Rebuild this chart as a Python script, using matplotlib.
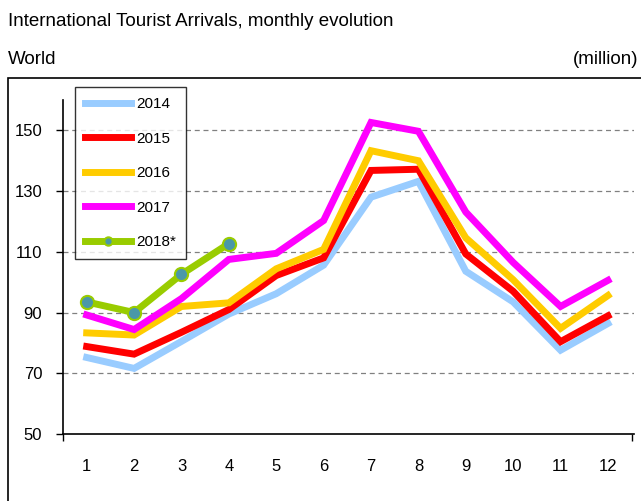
import matplotlib.pyplot as plt
from matplotlib.patches import Rectangle

plt.rcParams['font.family'] = ['Liberation Sans', 'DejaVu Sans']

months = list(range(1, 13))
y2014 = [75.2, 71.6, 80.5, 89.5, 96.2, 105.6, 128.0, 133.2, 103.6, 93.5, 77.6, 86.4]
y2015 = [78.8, 76.3, 83.5, 91.0, 102.2, 108.0, 136.8, 137.2, 109.3, 97.0, 80.4, 88.9]
y2016 = [83.3, 82.6, 92.0, 93.2, 104.4, 110.8, 143.3, 140.0, 114.6, 100.8, 84.8, 95.6]
y2017 = [89.2, 84.4, 94.6, 107.5, 109.5, 120.3, 152.6, 149.7, 123.1, 106.5, 92.0, 100.6]
y2018 = [93.5, 90.0, 102.6, 112.7]

fig = plt.figure(figsize=(6.41, 5.01), dpi=100)
ax = fig.add_axes([63 / 641, 67 / 501, 571 / 641, 334 / 501])

lw = 5
ax.plot(months, y2014, color='#99CCFF', lw=lw, label='2014', solid_joinstyle='miter')
ax.plot(months, y2015, color='#FF0000', lw=lw, label='2015', solid_joinstyle='miter')
ax.plot(months, y2016, color='#FFCC00', lw=lw, label='2016', solid_joinstyle='miter')
ax.plot(months, y2017, color='#FF00FF', lw=lw, label='2017', solid_joinstyle='miter')
ax.plot(months[:4], y2018, color='#99CC00', lw=lw, label='2018*', marker='o',
        markersize=9.5, markerfacecolor='#4A98A8', markeredgecolor='#99CC00',
        markeredgewidth=1.5)

ax.set_xlim(0.5, 12.55)
ax.set_ylim(50, 160)
ax.set_xticks(months)
ax.set_yticks([50, 70, 90, 110, 130, 150])
ax.tick_params(axis='x', length=0, pad=18, labelsize=12)
ax.tick_params(axis='y', length=5, width=1, labelsize=12, pad=10)
ax.set_xticks([0.5, 12.5], minor=True)
ax.tick_params(axis='x', which='minor', length=5, width=1)
for v in [70, 90, 110, 130, 150]:
    ax.axhline(v, color='#808080', lw=0.9, ls=(0, (4, 3)), zorder=0)
ax.spines['top'].set_visible(False)
ax.spines['right'].set_visible(False)
ax.spines['left'].set_linewidth(1.2)
ax.spines['bottom'].set_linewidth(1.2)

leg = ax.legend(loc='upper left', bbox_to_anchor=(75 / 641, 1 - 87 / 501),
                bbox_transform=fig.transFigure, fontsize=11, frameon=True,
                fancybox=False, edgecolor='black', handlelength=3.0,
                labelspacing=1.35, borderpad=0.65, handletextpad=0.35,
                borderaxespad=0)
leg.get_frame().set_linewidth(1.0)
leg.legend_handles[-1].set_markersize(6)

fig.text(8 / 641, 1 - 22 / 501, 'International Tourist Arrivals, monthly evolution',
         fontsize=13.5, va='center', ha='left')
fig.text(8 / 641, 1 - 60 / 501, 'World', fontsize=13.5, va='center', ha='left')
fig.text(638 / 641, 1 - 60 / 501, '(million)', fontsize=13.5, va='center', ha='right')

fig.patches.append(Rectangle((8 / 641, -0.05), 1, 1 - 78 / 501 + 0.05,
                             transform=fig.transFigure, fill=False,
                             edgecolor='black', lw=1.2))

fig.savefig('out.png', dpi=100)
